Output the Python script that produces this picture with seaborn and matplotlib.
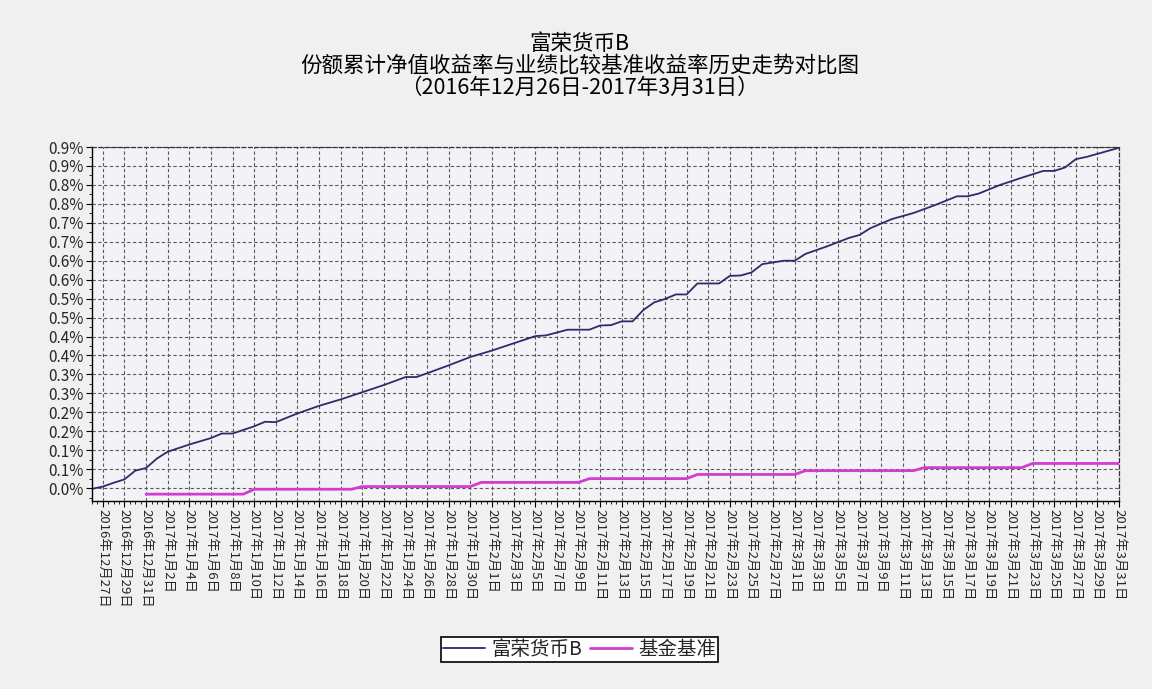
import pandas as pd
import seaborn as sns
import matplotlib.pyplot as plt
import matplotlib.dates as mdates
from matplotlib.ticker import AutoMinorLocator

# 富荣货币B 累计净值收益率 (%)
FundDates = ['2016-12-26', '2016-12-27', '2016-12-28', '2016-12-29', '2016-12-30', '2016-12-31',
             '2017-01-01', '2017-01-02', '2017-01-04', '2017-01-06', '2017-01-07', '2017-01-08',
             '2017-01-10', '2017-01-11', '2017-01-12', '2017-01-14', '2017-01-16', '2017-01-18',
             '2017-01-20', '2017-01-22', '2017-01-24', '2017-01-25', '2017-01-26', '2017-01-28',
             '2017-01-30', '2017-02-01', '2017-02-03', '2017-02-05', '2017-02-06', '2017-02-08',
             '2017-02-10', '2017-02-11', '2017-02-12', '2017-02-13', '2017-02-14', '2017-02-15',
             '2017-02-16', '2017-02-17', '2017-02-18', '2017-02-19', '2017-02-20', '2017-02-22',
             '2017-02-23', '2017-02-24', '2017-02-25', '2017-02-26', '2017-02-28', '2017-03-01',
             '2017-03-02', '2017-03-04', '2017-03-06', '2017-03-07', '2017-03-08', '2017-03-10',
             '2017-03-12', '2017-03-14', '2017-03-16', '2017-03-17', '2017-03-18', '2017-03-20',
             '2017-03-22', '2017-03-24', '2017-03-25', '2017-03-26', '2017-03-27', '2017-03-28',
             '2017-03-29', '2017-03-31']
FundValues = [-0.002, 0.004, 0.014, 0.023, 0.046, 0.053,
              0.078, 0.096, 0.115, 0.132, 0.144, 0.144,
              0.163, 0.175, 0.174, 0.197, 0.217, 0.234,
              0.253, 0.272, 0.293, 0.293, 0.303, 0.324,
              0.346, 0.363, 0.382, 0.401, 0.403, 0.418,
              0.418, 0.429, 0.430, 0.440, 0.440, 0.470,
              0.490, 0.499, 0.511, 0.511, 0.540, 0.540,
              0.560, 0.561, 0.569, 0.591, 0.600, 0.600,
              0.618, 0.638, 0.660, 0.668, 0.686, 0.710,
              0.726, 0.747, 0.770, 0.770, 0.777, 0.800,
              0.819, 0.837, 0.837, 0.846, 0.868, 0.874,
              0.882, 0.898]

# 基金基准 (%)
BenchDates = ['2016-12-31', '2017-01-09', '2017-01-10', '2017-01-19', '2017-01-20', '2017-01-30',
              '2017-01-31', '2017-02-09', '2017-02-10', '2017-02-19', '2017-02-20', '2017-03-01',
              '2017-03-02', '2017-03-12', '2017-03-13', '2017-03-22', '2017-03-23', '2017-03-31']
BenchValues = [-0.016, -0.016, -0.003, -0.003, 0.004, 0.004,
               0.015, 0.015, 0.025, 0.025, 0.036, 0.036,
               0.046, 0.046, 0.054, 0.054, 0.065, 0.065]

YTicks = [0.0, 0.05, 0.1, 0.15, 0.2, 0.25, 0.3, 0.35, 0.4, 0.45,
          0.5, 0.55, 0.6, 0.65, 0.7, 0.75, 0.8, 0.85, 0.9]
YTickLabels = ['0.0%', '0.1%', '0.1%', '0.2%', '0.2%', '0.3%', '0.3%', '0.4%', '0.4%', '0.5%',
               '0.5%', '0.6%', '0.6%', '0.7%', '0.7%', '0.8%', '0.8%', '0.9%', '0.9%']

Title = '富荣货币B\n份额累计净值收益率与业绩比较基准收益率历史走势对比图\n（2016年12月26日-2017年3月31日）'
FundLabel = '富荣货币B'
BenchLabel = '基金基准'

FundColor = '#2c2c6a'
BenchColor = '#d23cd2'

sns.set_theme(style="ticks")
plt.rcParams['font.family'] = ['Noto Sans CJK SC', 'DejaVu Sans']
plt.rcParams['axes.unicode_minus'] = False

fig = plt.figure(figsize=(11.52, 6.89), dpi=100, facecolor='#f0f0f0')
ax = fig.add_axes([0.0799, 0.2729, 0.8915, 0.5137])
ax.set_facecolor('#f3f3f7')

fund = pd.DataFrame({'date': pd.to_datetime(FundDates), 'val': FundValues})
bench = pd.DataFrame({'date': pd.to_datetime(BenchDates), 'val': BenchValues})

sns.lineplot(data=fund, x='date', y='val', ax=ax, color=FundColor, lw=1.3, label=FundLabel)
sns.lineplot(data=bench, x='date', y='val', ax=ax, color=BenchColor, lw=2.0, label=BenchLabel)

ax.set_xlim(pd.Timestamp('2016-12-26'), pd.Timestamp('2017-03-31'))
ax.set_ylim(-0.034, 0.9)

xt = pd.date_range('2016-12-27', '2017-03-31', freq='2D')
ax.set_xticks(xt)
ax.set_xticklabels([f'{d.year}年{d.month}月{d.day}日' for d in xt], rotation=-90, fontsize=9.5)
ax.xaxis.set_minor_locator(AutoMinorLocator(4))
ax.set_yticks(YTicks)
ax.set_yticklabels(YTickLabels, fontsize=11)
ax.yaxis.set_minor_locator(AutoMinorLocator(2))
ax.tick_params(axis='both', which='major', length=4, width=0.8, color='black', pad=2)
ax.tick_params(axis='both', which='minor', length=2, width=0.6, color='black')
ax.set_xlabel('')
ax.set_ylabel('')

ax.grid(True, which='major', linestyle=(0, (3, 2.2)), color='#5a5a5a', linewidth=0.8)
for s in ['left', 'bottom']:
    ax.spines[s].set_color('black')
    ax.spines[s].set_linewidth(1.0)
for s in ['top', 'right']:
    ax.spines[s].set_color('#333333')
    ax.spines[s].set_linestyle((0, (3, 2.2)))
    ax.spines[s].set_linewidth(0.9)

fig.text(0.503, 0.952, Title, ha='center', va='top', fontsize=15.5, linespacing=1.0, color='black')

h, l = ax.get_legend_handles_labels()
ax.legend(h, l, loc='center', bbox_to_anchor=(0.503, 0.057), bbox_transform=fig.transFigure,
          ncol=2, frameon=True, fancybox=False, edgecolor='black', facecolor='white', framealpha=1,
          fontsize=14, handlelength=2.2, columnspacing=0.4, handletextpad=0.3, borderpad=0.1,
          borderaxespad=0)
ax.get_legend().get_frame().set_linewidth(1.2)

fig.savefig('out.png', dpi=100, facecolor=fig.get_facecolor())
